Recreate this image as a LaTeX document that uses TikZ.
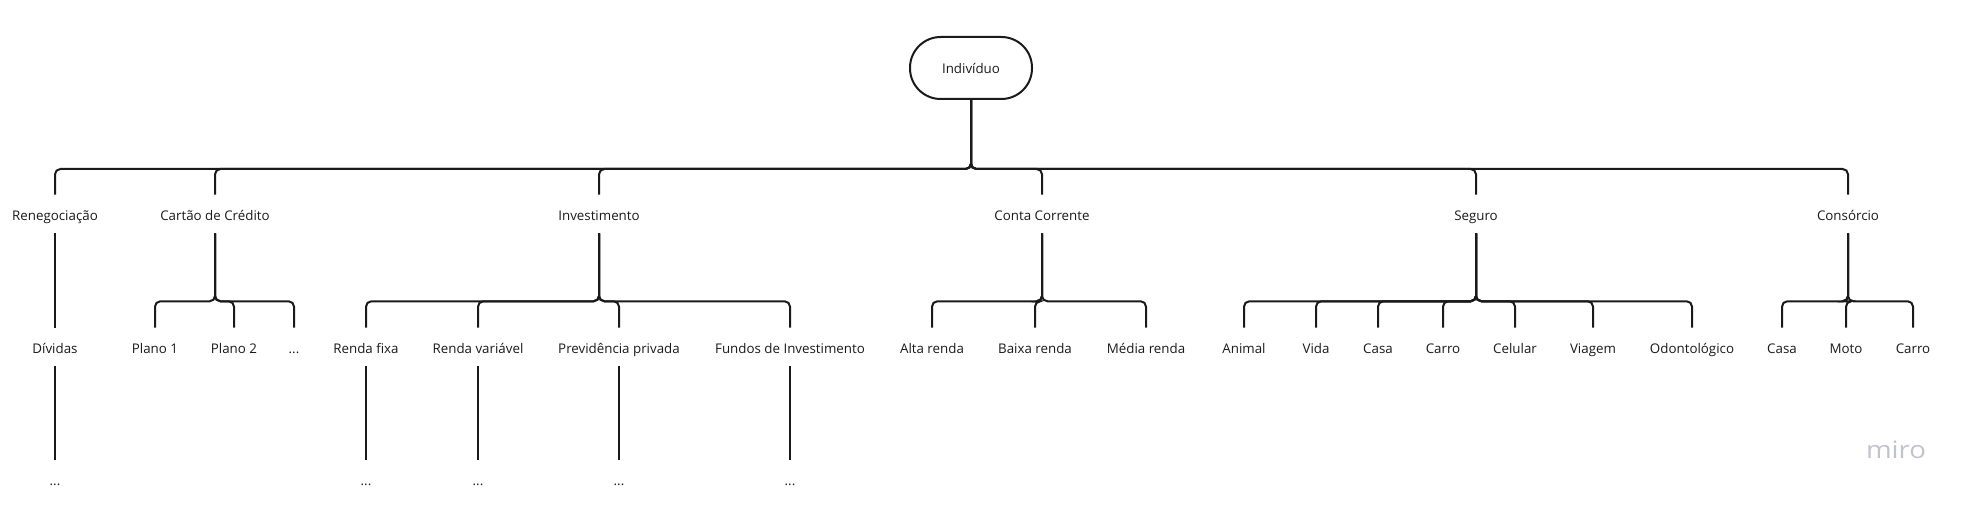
\documentclass[tikz,border=0pt]{standalone}
\usepackage{fontspec}
\setmainfont{Open Sans}
\definecolor{ln}{HTML}{1A1A1A}
\definecolor{txt}{HTML}{1A1A1A}
\definecolor{mirogray}{HTML}{C2C2CF}
\begin{document}
\begin{tikzpicture}[x=0.75pt,y=-0.75pt,
  lab/.style={inner sep=0pt, minimum height=28.5pt, text height=9.5pt, text depth=0.5pt,
    font=\fontsize{10}{12}\selectfont, text=txt},
  rootbox/.style={draw=ln, line width=1.5pt, rounded corners=23pt, minimum width=91.5pt,
    minimum height=46.5pt, inner sep=0pt, font=\fontsize{10}{12}\selectfont, text=txt},
  conn/.style={draw=ln, line width=1.5pt, rounded corners=4pt}]
\useasboundingbox (0,0) rectangle (1973,506);
% root
\node[rootbox] (root) at (971,68) {Indivíduo};
% level 1
\node[lab] (ren) at (55,214) {Renegociação};
\node[lab] (car) at (215,214) {Cartão de Crédito};
\node[lab] (inv) at (599,214) {Investimento};
\node[lab] (cc)  at (1042,214) {Conta Corrente};
\node[lab] (seg) at (1476,214) {Seguro};
\node[lab] (con) at (1848,214) {Consórcio};
% level 2
\node[lab] (div) at (55,347) {Dívidas};
\node[lab] (p1) at (155,347) {Plano 1};
\node[lab] (p2) at (234,347) {Plano 2};
\node[lab] (pd) at (294,347) {...};
\node[lab] (rf) at (366,347) {Renda fixa};
\node[lab] (rv) at (478,347) {Renda variável};
\node[lab] (pp) at (619,347) {Previdência privada};
\node[lab] (fi) at (790,347) {Fundos de Investimento};
\node[lab] (ar) at (932,347) {Alta renda};
\node[lab] (br) at (1035,347) {Baixa renda};
\node[lab] (mr) at (1146,347) {Média renda};
\node[lab] (an) at (1244,347) {Animal};
\node[lab] (vi) at (1316,347) {Vida};
\node[lab] (sc) at (1378,347) {Casa};
\node[lab] (sr) at (1443,347) {Carro};
\node[lab] (ce) at (1515,347) {Celular};
\node[lab] (vg) at (1593,347) {Viagem};
\node[lab] (od) at (1692,347) {Odontológico};
\node[lab] (kc) at (1782,347) {Casa};
\node[lab] (km) at (1846,347) {Moto};
\node[lab] (kr) at (1913,347) {Carro};
% level 3
\node[lab] (d1) at (55,479) {...};
\node[lab] (d2) at (366,479) {...};
\node[lab] (d3) at (478,479) {...};
\node[lab] (d4) at (619,479) {...};
\node[lab] (d5) at (790,479) {...};
% connectors root
\foreach \c in {ren,car,inv,cc,seg,con}
  \draw[conn] (root.south) -- ++(0,69) -| (\c.north);
% level 1 -> level 2
\draw[conn] (ren.south) -- (div.north);
\foreach \c in {p1,p2,pd}
  \draw[conn] (car.south) -- ++(0,68) -| (\c.north);
\foreach \c in {rf,rv,pp,fi}
  \draw[conn] (inv.south) -- ++(0,68) -| (\c.north);
\foreach \c in {ar,br,mr}
  \draw[conn] (cc.south) -- ++(0,68) -| (\c.north);
\foreach \c in {an,vi,sc,sr,ce,vg,od}
  \draw[conn] (seg.south) -- ++(0,68) -| (\c.north);
\foreach \c in {kc,km,kr}
  \draw[conn] (con.south) -- ++(0,68) -| (\c.north);
% level 2 -> level 3
\draw[conn] (div.south) -- (d1.north);
\draw[conn] (rf.south) -- (d2.north);
\draw[conn] (rv.south) -- (d3.north);
\draw[conn] (pp.south) -- (d4.north);
\draw[conn] (fi.south) -- (d5.north);
% watermark
\node[inner sep=0pt, anchor=base, xscale=1.15, font=\fontsize{18}{20}\selectfont, text=mirogray] (miro) at (1896,458) {miro};
\end{tikzpicture}
\end{document}
